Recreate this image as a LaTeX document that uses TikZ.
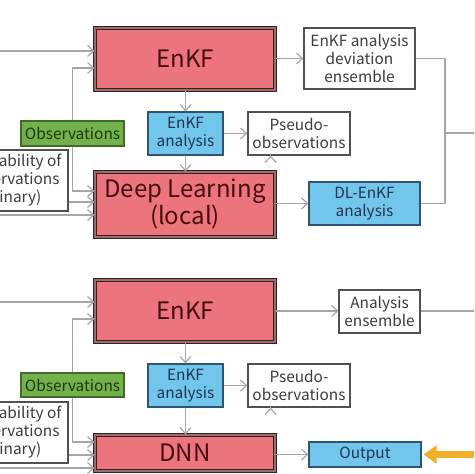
\documentclass[tikz,border=0pt]{standalone}
\usepackage{fontspec}
\setmainfont{Noto Sans CJK JP}
\usetikzlibrary{arrows.meta,calc}
\definecolor{redfill}{RGB}{236,117,125}
\definecolor{redline}{RGB}{55,32,32}
\definecolor{redmid}{RGB}{150,110,112}
\definecolor{redtext}{RGB}{70,12,14}
\definecolor{bluefill}{RGB}{114,198,236}
\definecolor{blueline}{RGB}{47,84,112}
\definecolor{bluetext}{RGB}{31,53,80}
\definecolor{greenfill}{RGB}{116,177,76}
\definecolor{greenline}{RGB}{62,107,38}
\definecolor{greentext}{RGB}{26,58,10}
\definecolor{boxline}{RGB}{80,80,80}
\definecolor{boxtext}{RGB}{60,60,60}
\definecolor{wire}{RGB}{166,166,166}
\definecolor{gold}{RGB}{240,176,40}
\begin{document}
\begin{tikzpicture}[x=0.5pt,y=-0.5pt,
  big/.style={draw=redline,double=redmid,double distance=0.7pt,line width=0.55pt,
    fill=redfill,text=redtext,font=\fontsize{12}{13.5}\selectfont,align=center,
    inner sep=0pt,minimum width=90pt},
  small/.style={draw=boxline,line width=0.6pt,fill=white,text=boxtext,
    font=\fontsize{7.7}{9}\selectfont,align=center,inner sep=0pt},
  blue/.style={small,draw=blueline,fill=bluefill,text=bluetext},
  green/.style={small,draw=greenline,fill=greenfill,text=greentext},
  link/.style={draw=wire,line width=0.6pt},
  arr/.style={link,-{Straight Barb[length=3pt,width=5.5pt]}}]
\useasboundingbox (0,0) rectangle (474,474);
\clip (0,0) rectangle (474,474);

% upper chart
\node[big,minimum height=31pt] (enkf) at (185,59) {EnKF};
\node[small,minimum width=55.5pt,minimum height=30.5pt] (dev) at (359.5,58.5) {EnKF analysis\\deviation\\ensemble};
\node[blue,minimum width=37.5pt,minimum height=21.5pt] (ana) at (185.5,133.5) {EnKF\\analysis};
\node[small,minimum width=51pt,minimum height=21.5pt] (pseudo) at (299,133.5) {Pseudo-\\observations};
\node[big,minimum height=32.5pt] (dl) at (185,204.5) {Deep Learning\\(local)};
\node[blue,minimum width=55.5pt,minimum height=21.5pt] (dlenkf) at (364.5,203.5) {DL-EnKF\\analysis};
\node[green,minimum width=51.5pt,minimum height=12.5pt] (obs) at (72.5,133.5) {Observations};
\node[small,minimum width=55pt,minimum height=30.5pt] (avail) at (13,180.5) {Availability of\\observations\\(binary)};
\coordinate (inA) at (0,51);
\coordinate (inB) at (0,215);
\coordinate (jn) at (445,133);
\coordinate (outA) at (474,133);

\draw[arr] (inA) -- (inA -| enkf.west);
\draw[arr] (obs.north) |- (enkf.west |- 0,68);
\draw[arr] (obs.south) |- (dl.west |- 0,191);
\draw[arr] (avail.east |- 0,202) -- (dl.west |- 0,202);
\draw[arr] (inB) -- (inB -| dl.west);
\draw[arr] (enkf.east |- dev.west) -- (dev.west);
\draw[arr] (enkf.south -| ana.north) -- (ana.north);
\draw[arr] (ana.east) -- (pseudo.west);
\draw[arr] (ana.south) -- (ana.south |- dl.north);
\draw[arr] ($(pseudo.south west)!0.225!(pseudo.south east)$) -- ($(pseudo.south west)!0.225!(pseudo.south east)$ |- dl.north);
\draw[arr] (dl.east |- dlenkf.west) -- (dlenkf.west);
\draw[link] (dev.east) -| (jn) |- (dlenkf.east);
\draw[link] (jn) -- (outA);

% lower chart
\node[big,minimum height=31pt] (enkf2) at (185,311) {EnKF};
\node[small,minimum width=40.5pt,minimum height=21.5pt] (ens) at (379.5,311.5) {Analysis\\ensemble};
\node[blue,minimum width=37.5pt,minimum height=21.5pt] (ana2) at (185.5,385.5) {EnKF\\analysis};
\node[small,minimum width=51pt,minimum height=21.5pt] (pseudo2) at (299,385.5) {Pseudo-\\observations};
\node[big,minimum height=18pt] (dnn) at (185,453) {DNN};
\node[blue,minimum width=56pt,minimum height=12.5pt] (out) at (365,454.5) {Output};
\node[green,minimum width=51.5pt,minimum height=12pt] (obs2) at (72.5,385) {Observations};
\node[small,minimum width=55pt,minimum height=30.5pt] (avail2) at (13,432.5) {Availability of\\observations\\(binary)};
\coordinate (inC) at (0,302);
\coordinate (inD) at (0,468);
\coordinate (outB) at (474,311);
\coordinate (far) at (500,454.5);

\draw[arr] (inC) -- (inC -| enkf2.west);
\draw[arr] (obs2.north) |- (enkf2.west |- 0,319);
\draw[arr] (obs2.south) |- (dnn.west |- 0,442);
\draw[arr] (avail2.east |- 0,455) -- (dnn.west |- 0,455);
\draw[arr] (inD) -- (inD -| dnn.west);
\draw[arr] (enkf2.east) -- (enkf2.east -| ens.west);
\draw[link] (ens.east |- enkf2.east) -- (outB);
\draw[arr] (enkf2.south -| ana2.north) -- (ana2.north);
\draw[arr] (ana2.east) -- (pseudo2.west);
\draw[arr] (ana2.south) -- (ana2.south |- dnn.north);
\draw[arr] ($(pseudo2.south west)!0.225!(pseudo2.south east)$) -- ($(pseudo2.south west)!0.225!(pseudo2.south east)$ |- dnn.north);
\draw[arr] (dnn.east |- out.west) -- (out.west);
\draw[gold,line width=3.3pt,{Triangle[length=6.5pt,width=9pt]}-{Triangle[length=6.5pt,width=9pt]},shorten <=1pt] (out.east) -- (far);
\end{tikzpicture}
\end{document}
